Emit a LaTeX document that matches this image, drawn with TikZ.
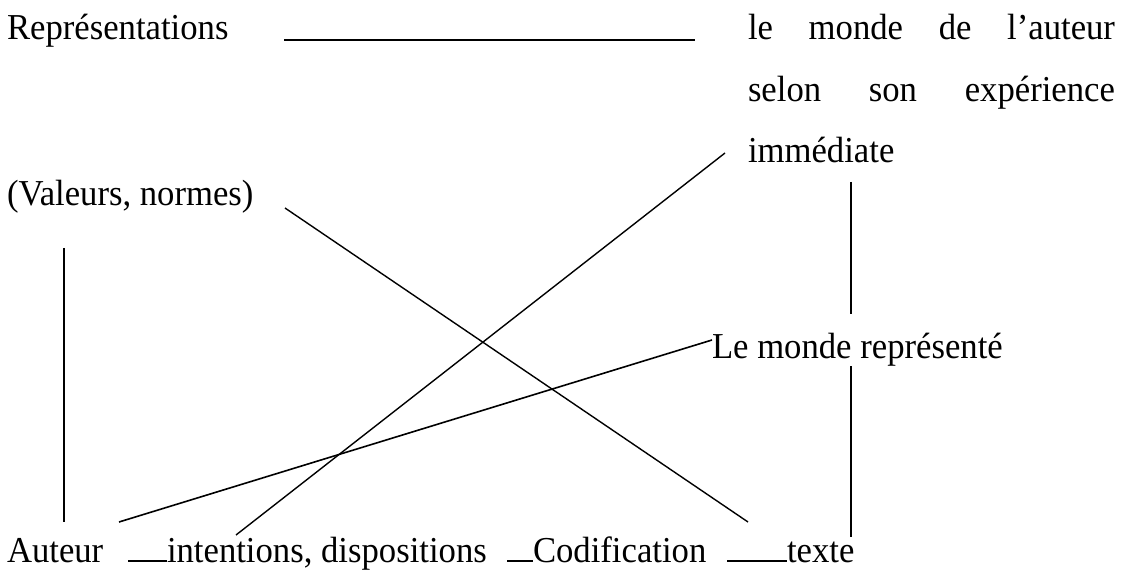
\documentclass[tikz,border=0pt]{standalone}
\usepackage{fontspec}
\setmainfont[FakeStretch=0.95]{Liberation Serif}
\begin{document}
\begin{tikzpicture}[x=1pt,y=-1pt,
  lbl/.style={anchor=base west,inner sep=0pt,outer sep=0pt,font=\fontsize{36.5pt}{40pt}\selectfont},
  conn/.style={line width=1.4pt,line cap=butt},
  bar/.style={line width=2pt}]
\useasboundingbox (0,0) rectangle (1122,572);
% texts
\node[lbl] (rep) at (7,40) {Représentations};
\node[lbl] (m1) at (748,40) {\makebox[367pt][s]{le\hfill monde\hfill de\hfill l’auteur}};
\node[lbl] (m2) at (748,101.5) {\makebox[367pt][s]{selon\hfill son\hfill expérience}};
\node[lbl] (m3) at (748,163) {immédiate};
\node[lbl] (val) at (7,206) {(Valeurs, normes)};
\node[lbl] (mr) at (712,358) {Le monde représenté};
\node[lbl] (aut) at (7,562) {Auteur};
\node[lbl] (int) at (167,562) {intentions, dispositions};
\node[lbl] (cod) at (533,562) {Codification};
\node[lbl] (tex) at (787,562) {texte};
% coordinates
\coordinate (h1) at (284,40);
\coordinate (h2) at (695,40);
\coordinate (d1a) at (725,153);
\coordinate (d1b) at (236,535);
\coordinate (v1a) at (851,182);
\coordinate (v1b) at (851,314);
\coordinate (d2a) at (285,208);
\coordinate (d2b) at (748,522);
\coordinate (v2a) at (64,248);
\coordinate (v2b) at (64,522);
\coordinate (d3a) at (119,522);
\coordinate (d3b) at (712,340);
\coordinate (v3a) at (851,366);
\coordinate (v3b) at (851,537);
\coordinate (u1a) at (128,561);
\coordinate (u1b) at (167,561);
\coordinate (u2a) at (507,561);
\coordinate (u2b) at (533,561);
\coordinate (u3a) at (727,561);
\coordinate (u3b) at (787,561);
% connectors
\draw[bar] (h1) -- (h2);
\draw[conn] (d1a) -- (d1b);
\draw[conn] (v1a) -- (v1b);
\draw[conn] (d2a) -- (d2b);
\draw[conn] (v2a) -- (v2b);
\draw[conn,line width=1.6pt] (d3a) -- (d3b);
\draw[conn] (v3a) -- (v3b);
\draw[bar] (u1a) -- (u1b);
\draw[bar] (u2a) -- (u2b);
\draw[bar] (u3a) -- (u3b);
\end{tikzpicture}
\end{document}
